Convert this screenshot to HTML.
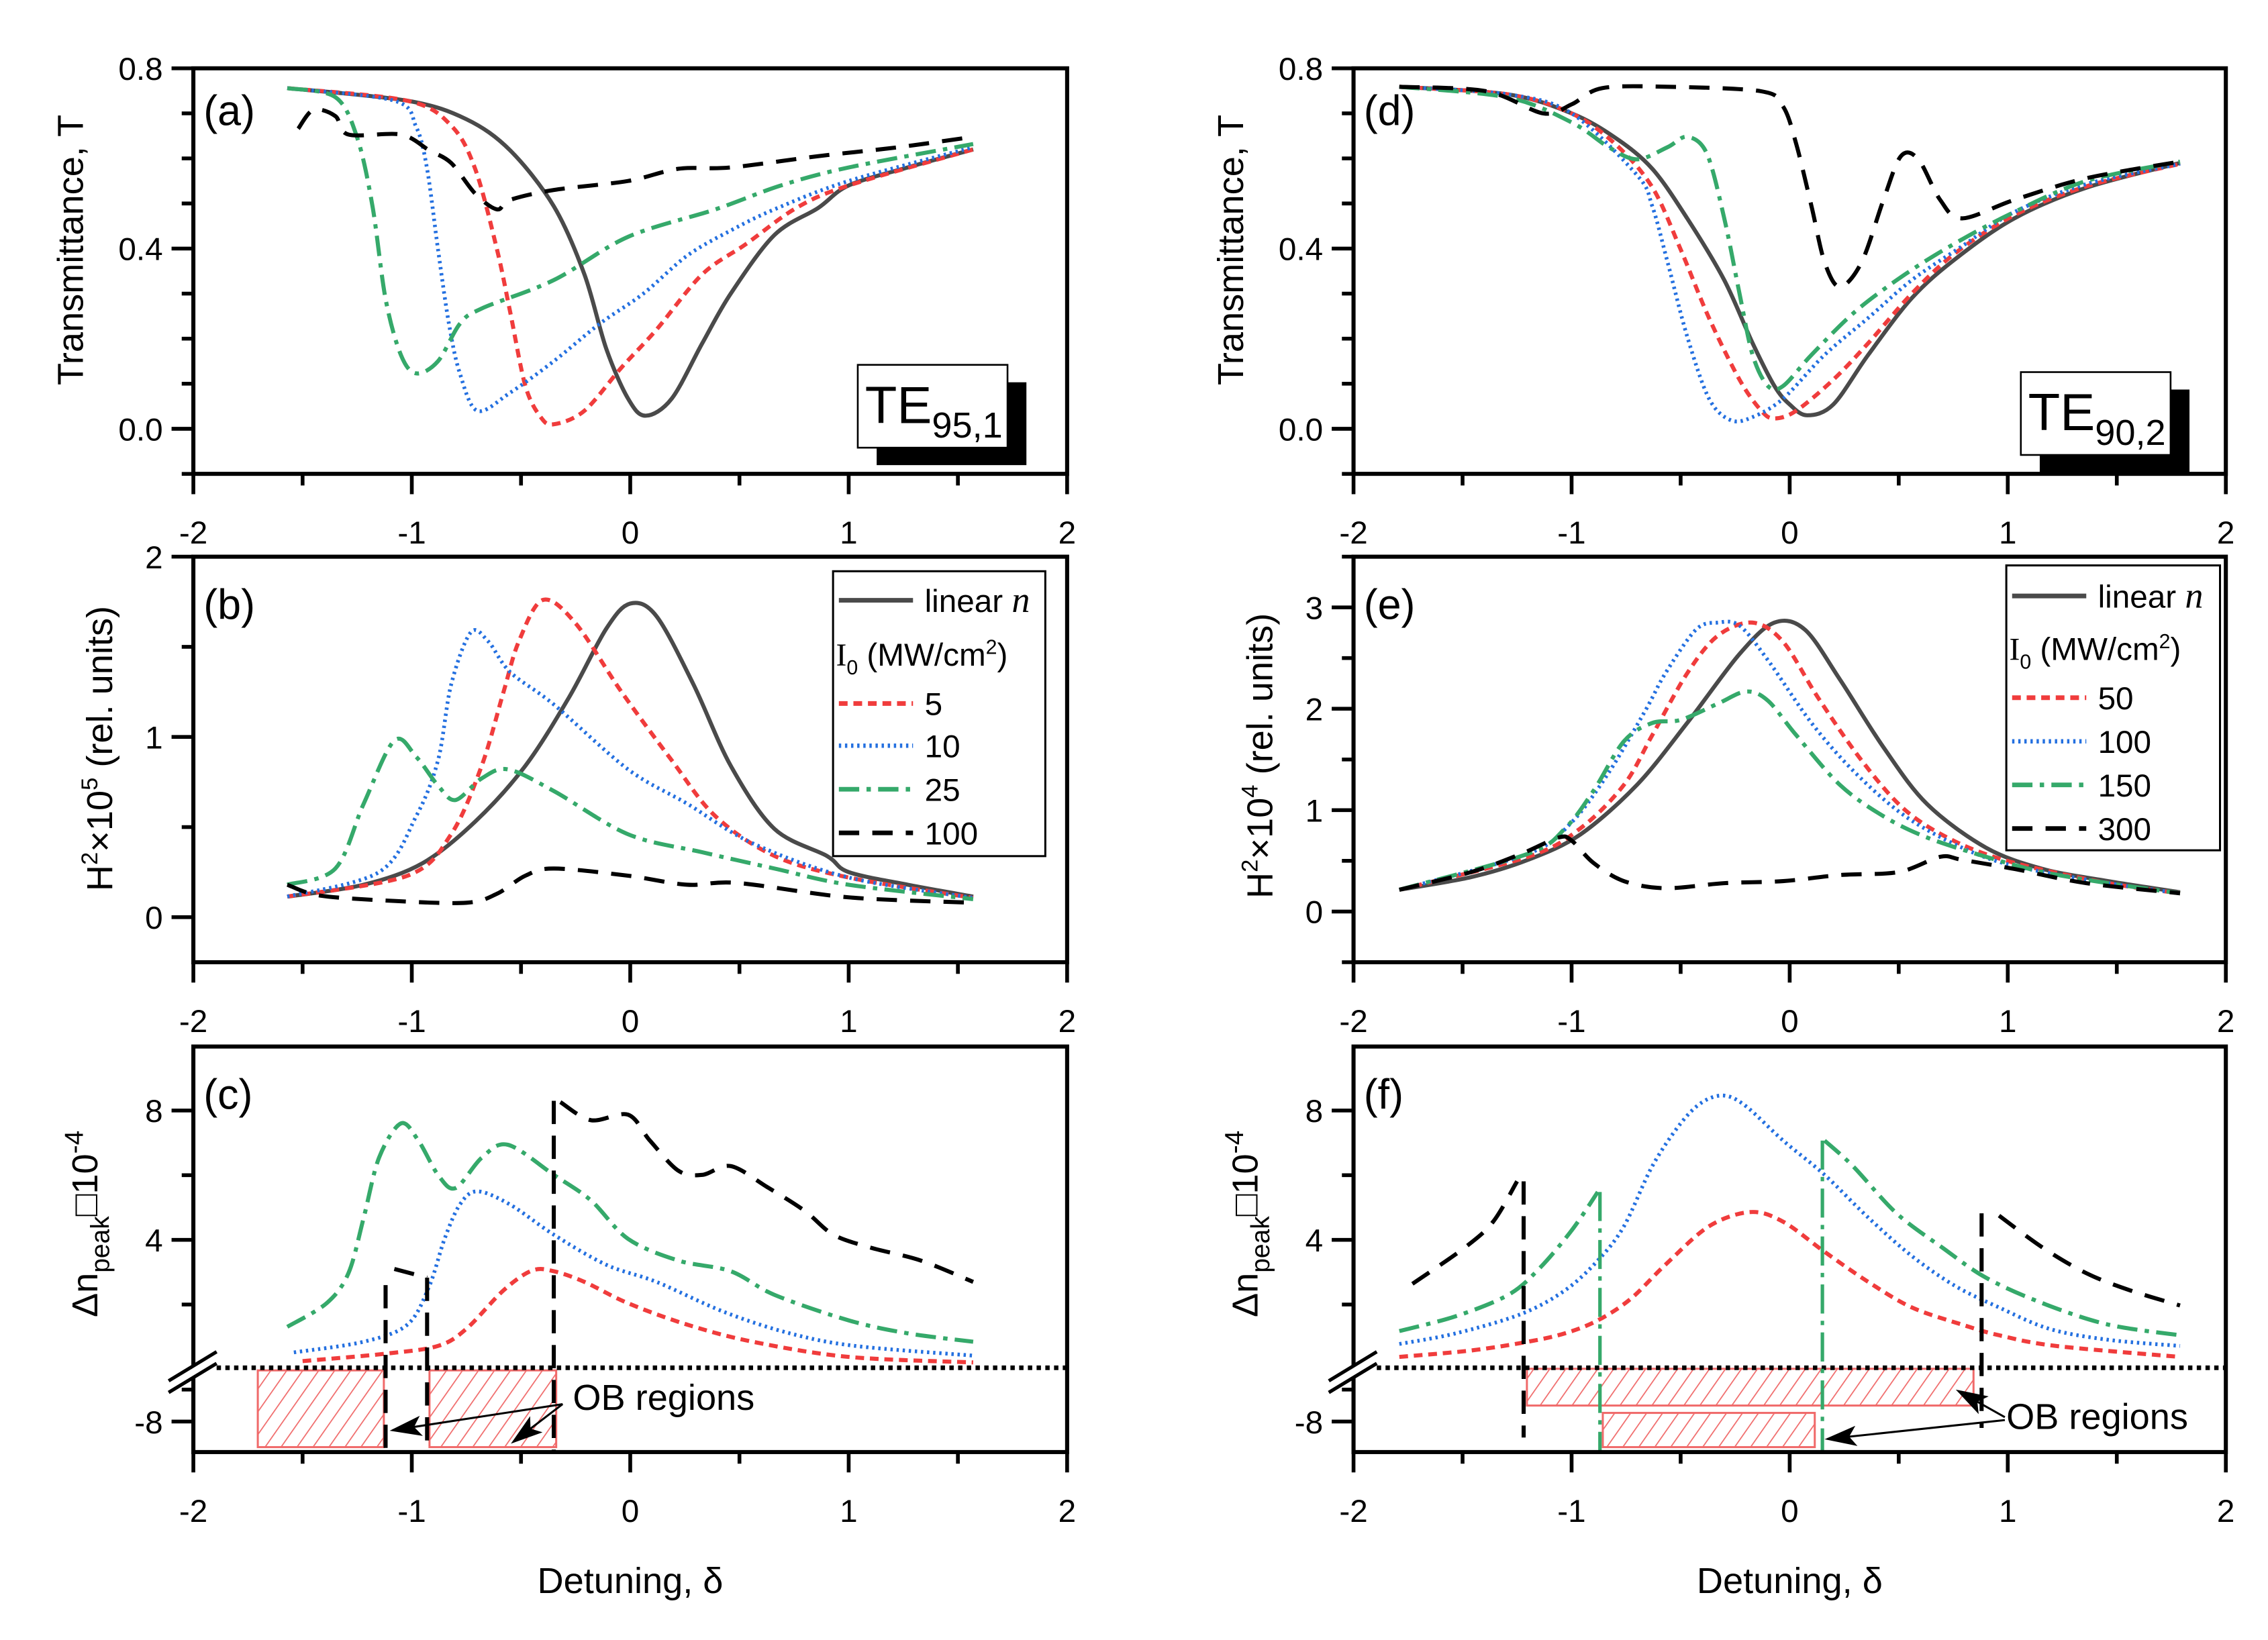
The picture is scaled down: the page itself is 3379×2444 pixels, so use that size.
<!DOCTYPE html>
<html><head><meta charset="utf-8">
<style>
html,body{margin:0;padding:0;background:#fff;}
svg{display:block;}
text{font-family:"Liberation Sans",sans-serif;fill:#000;}
.tick{font-size:22px;}
.ttl{font-size:25px;}
.plab{font-size:29px;}
</style></head>
<body>
<svg id="fig" width="3379" height="2444" viewBox="0 0 1560 1128.3" preserveAspectRatio="none" xmlns="http://www.w3.org/2000/svg">
<defs>
<pattern id="hatch" patternUnits="userSpaceOnUse" width="9" height="9" patternTransform="rotate(35)">
<line x1="0" y1="0" x2="0" y2="9" stroke="#f06a6a" stroke-width="1.6"/>
</pattern>
<marker id="arrB" markerWidth="22" markerHeight="14" refX="20" refY="7" orient="auto" markerUnits="userSpaceOnUse">
<path d="M0,0 L22,7 L0,14 L5,7 Z" fill="#000"/>
</marker>
</defs>
<g id="root"></g>
</svg>
<script>
// ---------- DATA ----------
const aLinX=[-1.57,-1.02,-0.75,-0.55,-0.35,-0.21,-0.11,-0.01,0.07,0.19,0.33,0.46,0.66,0.86,1.0,1.27,1.57];
const aLinY=[0.756,0.728,0.687,0.618,0.494,0.343,0.178,0.067,0.029,0.067,0.19,0.30,0.43,0.49,0.54,0.58,0.62];
const a5X=[-1.57,-1.02,-0.82,-0.71,-0.61,-0.55,-0.48,-0.41,-0.35,-0.21,-0.04,0.12,0.33,0.53,0.76,1.0,1.57];
const a5Y=[0.756,0.728,0.673,0.577,0.398,0.26,0.095,0.026,0.01,0.04,0.136,0.22,0.343,0.41,0.49,0.54,0.62];
const a10X=[-1.57,-1.08,-0.98,-0.93,-0.88,-0.83,-0.78,-0.70,-0.55,-0.35,-0.14,0.06,0.26,0.46,0.66,1.0,1.57];
const a10Y=[0.756,0.728,0.67,0.577,0.398,0.233,0.123,0.04,0.08,0.15,0.233,0.30,0.384,0.44,0.487,0.55,0.625];
const a25X=[-1.57,-1.35,-1.25,-1.18,-1.12,-1.05,-0.98,-0.88,-0.78,-0.68,-0.35,-0.01,0.39,0.69,1.0,1.57];
const a25Y=[0.756,0.736,0.646,0.494,0.288,0.164,0.123,0.15,0.233,0.267,0.33,0.426,0.487,0.54,0.58,0.632];
const a100X=[-1.52,-1.45,-1.35,-1.29,-1.05,-0.92,-0.82,-0.71,-0.61,-0.55,-0.35,-0.01,0.22,0.46,0.86,1.23,1.57];
const a100Y=[0.666,0.708,0.694,0.653,0.653,0.618,0.59,0.522,0.487,0.508,0.53,0.55,0.577,0.58,0.605,0.625,0.648];
const bLinX=[-1.57,-1.22,-0.95,-0.71,-0.48,-0.28,-0.11,0,0.12,0.29,0.46,0.66,0.9,1.0,1.27,1.57];
const bLinY=[0.114,0.18,0.30,0.53,0.84,1.22,1.6,1.74,1.67,1.29,0.84,0.49,0.34,0.25,0.18,0.114];
const b5X=[-1.57,-1.02,-0.82,-0.68,-0.58,-0.51,-0.40,-0.25,-0.04,0.19,0.39,0.66,1.0,1.57];
const b5Y=[0.114,0.23,0.46,0.84,1.25,1.53,1.76,1.63,1.25,0.87,0.56,0.34,0.22,0.107];
const b10X=[-1.57,-1.15,-0.98,-0.88,-0.82,-0.73,-0.65,-0.55,-0.35,-0.01,0.26,0.56,1.0,1.57];
const b10Y=[0.114,0.25,0.56,0.87,1.29,1.58,1.53,1.36,1.18,0.82,0.63,0.41,0.22,0.107];
const b25X=[-1.57,-1.35,-1.22,-1.08,-0.98,-0.88,-0.80,-0.68,-0.56,-0.35,-0.01,0.33,0.66,1.0,1.57];
const b25Y=[0.18,0.27,0.63,0.98,0.89,0.73,0.65,0.77,0.82,0.70,0.46,0.36,0.27,0.18,0.10];
const b100X=[-1.57,-1.42,-1.08,-0.75,-0.61,-0.48,-0.35,-0.01,0.26,0.49,1.0,1.57];
const b100Y=[0.18,0.12,0.09,0.08,0.13,0.23,0.27,0.23,0.18,0.19,0.11,0.08];
const c5X=[-1.5,-1.12,-0.88,-0.75,-0.58,-0.45,-0.35,-0.21,-0.01,0.26,0.56,1.0,1.57];
const c5Y=[0.25,0.48,0.72,1.25,2.44,3.05,3.03,2.7,2.04,1.38,0.85,0.38,0.21];
const c10X=[-1.54,-1.22,-1.02,-0.92,-0.85,-0.78,-0.70,-0.55,-0.35,-0.11,0.12,0.43,0.73,1.03,1.57];
const c10Y=[0.52,0.85,1.38,2.57,4.03,5.09,5.5,5.09,4.16,3.23,2.7,1.77,1.11,0.72,0.42];
const c25X=[-1.57,-1.39,-1.29,-1.22,-1.15,-1.05,-0.97,-0.88,-0.80,-0.68,-0.56,-0.35,-0.18,-0.01,0.22,0.46,0.66,1.0,1.27,1.57];
const c25Y=[1.31,2.04,2.97,4.69,6.54,7.6,7.07,6.01,5.6,6.54,6.94,6.01,5.22,4.03,3.36,3.03,2.3,1.51,1.11,0.85];
const c100aX=[-1.08,-0.93];
const c100aY=[3.1,2.83];
const c100bX=[-0.32,-0.18,-0.01,0.09,0.22,0.33,0.46,0.63,0.8,0.93,1.1,1.33,1.57];
const c100bY=[8.26,7.7,7.87,7.07,6.14,6.01,6.28,5.62,4.89,4.16,3.76,3.36,2.7];
const cDropX=[-1.12,-0.93,-0.35];
const cDropTop=[2.6,2.83,8.3];
const cDropBot=[-8.95,-8.95,-8.95];
const cBoxX0=[-1.705,-0.919];
const cBoxX1=[-1.128,-0.339];
const cBoxTop=[-6.4,-6.4];
const cBoxBot=[-8.8,-8.8];
const dLinX=[-1.79,-1.29,-1.0,-0.8,-0.63,-0.47,-0.3,-0.17,-0.07,0,0.08,0.2,0.36,0.56,0.76,1.03,1.36,1.79];
const dLinY=[0.759,0.742,0.70,0.646,0.577,0.467,0.33,0.19,0.095,0.054,0.03,0.054,0.164,0.29,0.377,0.467,0.535,0.59];
const d50X=[-1.79,-1.29,-1.0,-0.8,-0.63,-0.5,-0.37,-0.23,-0.13,-0.07,0.03,0.2,0.36,0.56,0.76,1.03,1.36,1.79];
const d50Y=[0.759,0.742,0.70,0.632,0.536,0.398,0.246,0.109,0.04,0.023,0.04,0.109,0.19,0.30,0.39,0.474,0.538,0.588];
const d100X=[-1.79,-1.29,-1.0,-0.7,-0.63,-0.56,-0.47,-0.37,-0.27,-0.17,-0.03,0.16,0.36,0.56,0.79,1.03,1.36,1.79];
const d100Y=[0.759,0.742,0.70,0.563,0.494,0.37,0.205,0.067,0.019,0.026,0.067,0.164,0.246,0.33,0.405,0.481,0.543,0.588];
const d150X=[-1.79,-1.29,-1.0,-0.83,-0.7,-0.56,-0.47,-0.38,-0.3,-0.23,-0.17,-0.1,-0.03,0.1,0.3,0.53,0.76,1.03,1.36,1.79];
const d150Y=[0.759,0.735,0.68,0.625,0.598,0.625,0.648,0.611,0.467,0.30,0.164,0.095,0.095,0.164,0.26,0.343,0.412,0.481,0.55,0.593];
const d300X=[-1.79,-1.39,-1.13,-1.0,-0.86,-0.56,-0.13,-0.03,0.03,0.1,0.16,0.23,0.33,0.43,0.51,0.59,0.69,0.79,1.03,1.36,1.79];
const d300Y=[0.759,0.749,0.70,0.72,0.756,0.759,0.749,0.715,0.632,0.494,0.37,0.315,0.37,0.508,0.605,0.598,0.508,0.467,0.508,0.556,0.593];
const eLinX=[-1.79,-1.46,-1.2,-0.96,-0.7,-0.47,-0.23,-0.07,0.07,0.23,0.43,0.63,0.9,1.16,1.46,1.79];
const eLinY=[0.215,0.34,0.51,0.76,1.25,1.86,2.54,2.85,2.78,2.29,1.62,1.06,0.63,0.42,0.30,0.19];
const e50X=[-1.79,-1.2,-0.96,-0.76,-0.63,-0.47,-0.33,-0.17,-0.03,0.13,0.33,0.53,0.76,1.03,1.46,1.79];
const e50Y=[0.215,0.54,0.82,1.25,1.74,2.35,2.72,2.85,2.66,2.11,1.49,1.0,0.69,0.48,0.28,0.18];
const e100X=[-1.79,-1.2,-1.0,-0.83,-0.66,-0.57,-0.43,-0.33,-0.23,-0.1,0.1,0.3,0.53,0.79,1.03,1.46,1.79];
const e100Y=[0.215,0.57,0.88,1.37,1.99,2.35,2.78,2.85,2.82,2.48,1.86,1.37,0.94,0.63,0.45,0.28,0.18];
const e150X=[-1.79,-1.2,-1.03,-0.9,-0.76,-0.63,-0.5,-0.33,-0.2,-0.1,0.03,0.23,0.43,0.63,0.9,1.16,1.46,1.79];
const e150Y=[0.215,0.57,0.82,1.19,1.68,1.86,1.89,2.05,2.17,2.08,1.74,1.25,0.94,0.73,0.54,0.39,0.28,0.18];
const e300X=[-1.79,-1.46,-1.23,-1.06,-1.0,-0.9,-0.76,-0.57,-0.3,-0.03,0.23,0.5,0.69,0.79,1.03,1.36,1.79];
const e300Y=[0.215,0.39,0.57,0.73,0.70,0.48,0.30,0.23,0.28,0.30,0.36,0.39,0.54,0.51,0.42,0.28,0.18];
const f50X=[-1.79,-1.46,-1.2,-1.03,-0.88,-0.73,-0.57,-0.37,-0.18,-0.03,0.16,0.36,0.56,0.79,0.96,1.22,1.79];
const f50Y=[0.38,0.58,0.85,1.11,1.51,2.17,3.23,4.42,4.86,4.56,3.63,2.70,1.91,1.38,1.05,0.72,0.38];
const f100X=[-1.79,-1.53,-1.23,-1.03,-0.88,-0.76,-0.63,-0.50,-0.40,-0.3,-0.2,-0.03,0.16,0.36,0.56,0.76,0.96,1.19,1.46,1.79];
const f100Y=[0.78,1.11,1.71,2.44,3.36,4.42,6.28,7.6,8.26,8.46,8.13,7.07,6.01,4.69,3.5,2.57,1.91,1.25,0.91,0.72];
const f150aX=[-1.79,-1.53,-1.29,-1.15,-1.0,-0.88];
const f150aY=[1.18,1.64,2.3,3.1,4.29,5.48];
const f150bX=[0.16,0.29,0.49,0.7,0.9,1.16,1.46,1.79];
const f150bY=[7.07,6.28,4.82,3.76,2.83,2.04,1.38,1.05];
const f300aX=[-1.73,-1.49,-1.36,-1.25];
const f300aY=[2.64,3.76,4.56,5.81];
const f300bX=[0.96,1.16,1.36,1.56,1.79];
const f300bY=[4.75,3.76,2.97,2.44,1.97];
const fGreenDropX=[-0.87,0.15];
const fGreenDropTop=[5.48,7.07];
const fGreenDropBot=[-8.95,-8.95];
const fBlackDropX=[-1.22,0.88];
const fBlackDropTop=[5.81,4.82];
const fBlackDropBot=[-8.5,-8.2];
const fBoxX0=[-1.205,-0.857];
const fBoxX1=[0.843,0.115];
const fBoxTop=[-6.35,-7.73];
const fBoxBot=[-7.5,-8.8];

// ---------- DRAWING ----------
const NS="http://www.w3.org/2000/svg";
const root=document.getElementById('root');
function el(tag,attrs,parent){const e=document.createElementNS(NS,tag);for(const k in attrs)e.setAttribute(k,attrs[k]);(parent||root).appendChild(e);return e;}
const STY={
 lin:{stroke:'#4a4a4a','stroke-width':2.8,'stroke-dasharray':'none'},
 red:{stroke:'#f03c3c','stroke-width':2.8,'stroke-dasharray':'6 4'},
 blue:{stroke:'#2470e0','stroke-width':2.6,'stroke-dasharray':'1.6 2.6'},
 green:{stroke:'#35a96a','stroke-width':2.8,'stroke-dasharray':'14 5 3 5'},
 black:{stroke:'#000','stroke-width':2.8,'stroke-dasharray':'14 9'}
};
function series(g,X,Y,xs,ys,sty,name){
  const pts=xs.map((x,i)=>[X(x),Y(ys[i])]);
  let d='M'+pts[0][0].toFixed(2)+','+pts[0][1].toFixed(2);
  if(pts.length<3){for(let i=1;i<pts.length;i++)d+='L'+pts[i][0].toFixed(2)+','+pts[i][1].toFixed(2);}
  else{
    const t=0.16;
    for(let i=0;i<pts.length-1;i++){
      const p0=pts[Math.max(0,i-1)],p1=pts[i],p2=pts[i+1],p3=pts[Math.min(pts.length-1,i+2)];
      const c1=[p1[0]+(p2[0]-p0[0])*t,p1[1]+(p2[1]-p0[1])*t];
      const c2=[p2[0]-(p3[0]-p1[0])*t,p2[1]-(p3[1]-p1[1])*t];
      d+='C'+c1[0].toFixed(2)+','+c1[1].toFixed(2)+' '+c2[0].toFixed(2)+','+c2[1].toFixed(2)+' '+p2[0].toFixed(2)+','+p2[1].toFixed(2);
    }
  }
  const p=el('path',{d:d,fill:'none','stroke-linejoin':'round',stroke:sty.stroke,'stroke-width':sty['stroke-width'],'stroke-dasharray':sty['stroke-dasharray']},g);
  
  
  return p;
}
function txt(g,x,y,s,cls,anchor,name){const t=el('text',{x:x,y:y,'class':cls,'text-anchor':anchor||'middle'},g);t.textContent=s;
  
  
  return t;}

function panel(opt){
  const g=el('g',{});
  
  
  const X=d=>opt.x0+(d+2)/4*(opt.x1-opt.x0);
  const Y=opt.Y;
  for(let v=-2;v<=2.001;v+=0.5){
    const maj=Math.abs(v-Math.round(v))<1e-6;
    const xx=X(v);
    el('line',{x1:xx,x2:xx,y1:opt.bot,y2:opt.bot+(maj?14:8),stroke:'#000','stroke-width':2.6},g);
    if(maj) txt(g,xx,opt.bot+48,String(Math.round(v)),'tick','middle','x-tick-label');
  }
  opt.yticks.forEach(t=>{
    const yy=Y(t.v);
    el('line',{x1:opt.x0-(t.l?15:8),x2:opt.x0,y1:yy,y2:yy,stroke:'#000','stroke-width':2.6},g);
    if(t.l!==undefined && t.l!==null) txt(g,opt.x0-21,yy+8,t.l,'tick','end','y-tick-label');
  });
  return {g,X,Y};
}
function frame(g,opt){
  const r=el('rect',{x:opt.x0,y:opt.top,width:opt.x1-opt.x0,height:opt.bot-opt.top,fill:'none',stroke:'#000','stroke-width':2.8},g);
  
  
}
function linY(top,bot,mn,mx){return v=>bot-(v-mn)/(mx-mn)*(bot-top);}
function brokenY(v){return v>=-1?942-v*22.25:978-(v+8)*22;}
function ticksRange(a,b,st,labels){const r=[];for(let v=a;v<=b+1e-6;v+=st){const k=Math.round(v*100)/100;r.push({v:k,l:labels[k.toFixed(2)]});}return r;}

const cols=[{x0:133,x1:734,side:'left'},{x0:931,x1:1531,side:'right'}];

[['a',0],['d',1]].forEach(([lab,ci])=>{
  const c=cols[ci];
  const opt={name:'panel-'+lab,x0:c.x0,x1:c.x1,top:47,bot:326,Y:linY(47,326,-0.1,0.8),
    yticks:ticksRange(-0.1,0.8,0.1,{'0.80':'0.8','0.40':'0.4','0.00':'0.0'})};
  const P=panel(opt);
  if(lab==='a'){
    series(P.g,P.X,P.Y,aLinX,aLinY,STY.lin,'series-linear');
    series(P.g,P.X,P.Y,a5X,a5Y,STY.red,'series-5');
    series(P.g,P.X,P.Y,a10X,a10Y,STY.blue,'series-10');
    series(P.g,P.X,P.Y,a25X,a25Y,STY.green,'series-25');
    series(P.g,P.X,P.Y,a100X,a100Y,STY.black,'series-100');
  } else {
    series(P.g,P.X,P.Y,dLinX,dLinY,STY.lin,'series-linear');
    series(P.g,P.X,P.Y,d50X,d50Y,STY.red,'series-50');
    series(P.g,P.X,P.Y,d100X,d100Y,STY.blue,'series-100');
    series(P.g,P.X,P.Y,d150X,d150Y,STY.green,'series-150');
    series(P.g,P.X,P.Y,d300X,d300Y,STY.black,'series-300');
  }
  frame(P.g,opt);
  txt(P.g,c.x0+7,opt.top+39,'('+lab+')','plab','start','panel-label');
  const t=txt(P.g,0,0,'Transmittance, T','ttl','middle','y-axis-title');
  t.setAttribute('transform','translate('+(c.x0-76)+',172) rotate(-90)');
  const bx=ci?1390:590, by=ci?256:251;
  el('rect',{x:bx+13,y:by+12,width:103,height:57,fill:'#000'},P.g);
  const bb=el('rect',{x:bx,y:by,width:103,height:57,fill:'#fff',stroke:'#000','stroke-width':1.2},P.g);
  
  
  const tt=el('text',{x:bx+5,y:by+40,'font-size':'36px'},P.g);
  
  
  tt.innerHTML='TE<tspan font-size="25px" dy="10">'+(ci?'90,2':'95,1')+'</tspan>';
});

function legend(g,x,y,w,h,rows,lineX,textX){
  const lg=el('g',{},g);
  
  
  el('rect',{x:x,y:y,width:w,height:h,fill:'#fff',stroke:'#000','stroke-width':1.4},lg);
  rows.forEach(r=>{
    if(r.sty){
      const ln=el('line',{x1:lineX,x2:lineX+51,y1:r.y,y2:r.y,stroke:r.sty.stroke,'stroke-width':r.sty['stroke-width']+0.4,'stroke-dasharray':r.sty['stroke-dasharray']},lg);
      
      
    }
    const t=el('text',{x:r.tx||textX,y:r.y+8,'font-size':'22px'},lg);
    
    
    t.innerHTML=r.html;
  });
}
[['b',0],['e',1]].forEach(([lab,ci])=>{
  const c=cols[ci];
  const opt= ci===0 ? {name:'panel-b',x0:c.x0,x1:c.x1,top:383,bot:662,Y:linY(383,662,-0.25,2),
      yticks:ticksRange(0,2,0.5,{'0.00':'0','1.00':'1','2.00':'2'})}
    : {name:'panel-e',x0:c.x0,x1:c.x1,top:383,bot:662,Y:linY(383,662,-0.5,3.5),
      yticks:ticksRange(-0.5,3.5,0.5,{'0.00':'0','1.00':'1','2.00':'2','3.00':'3'})};
  const P=panel(opt);
  if(ci===0){
    series(P.g,P.X,P.Y,bLinX,bLinY,STY.lin,'series-linear');
    series(P.g,P.X,P.Y,b5X,b5Y,STY.red,'series-5');
    series(P.g,P.X,P.Y,b10X,b10Y,STY.blue,'series-10');
    series(P.g,P.X,P.Y,b25X,b25Y,STY.green,'series-25');
    series(P.g,P.X,P.Y,b100X,b100Y,STY.black,'series-100');
    legend(P.g,573,393,146,196,[
      {y:413,sty:STY.lin,html:'linear <tspan font-family="Liberation Serif" font-style="italic" font-size="25px">n</tspan>'},
      {y:450,tx:575,html:'<tspan font-family="Liberation Serif">I</tspan><tspan font-size="14px" dy="6">0</tspan><tspan dy="-6"> (MW/cm</tspan><tspan font-size="14px" dy="-8">2</tspan><tspan dy="8">)</tspan>'},
      {y:484,sty:STY.red,html:'5'},{y:513,sty:STY.blue,html:'10'},{y:543,sty:STY.green,html:'25'},{y:573,sty:STY.black,html:'100'}],577,636);
  } else {
    series(P.g,P.X,P.Y,eLinX,eLinY,STY.lin,'series-linear');
    series(P.g,P.X,P.Y,e50X,e50Y,STY.red,'series-50');
    series(P.g,P.X,P.Y,e100X,e100Y,STY.blue,'series-100');
    series(P.g,P.X,P.Y,e150X,e150Y,STY.green,'series-150');
    series(P.g,P.X,P.Y,e300X,e300Y,STY.black,'series-300');
    legend(P.g,1380,389,147,196,[
      {y:410,sty:STY.lin,html:'linear <tspan font-family="Liberation Serif" font-style="italic" font-size="25px">n</tspan>'},
      {y:446,tx:1382,html:'<tspan font-family="Liberation Serif">I</tspan><tspan font-size="14px" dy="6">0</tspan><tspan dy="-6"> (MW/cm</tspan><tspan font-size="14px" dy="-8">2</tspan><tspan dy="8">)</tspan>'},
      {y:480,sty:STY.red,html:'50'},{y:510,sty:STY.blue,html:'100'},{y:540,sty:STY.green,html:'150'},{y:570,sty:STY.black,html:'300'}],1384,1443);
  }
  frame(P.g,opt);
  txt(P.g,c.x0+7,opt.top+43,'('+lab+')','plab','start','panel-label');
  const t=el('text',{'class':'ttl','text-anchor':'middle',transform:'translate('+(c.x0-56)+','+(ci?520:515)+') rotate(-90)'},P.g);
  
  
  t.innerHTML='H<tspan font-size="16px" dy="-10">2</tspan><tspan dy="10">×10</tspan><tspan font-size="16px" dy="-10">'+(ci?'4':'5')+'</tspan><tspan dy="10"> (rel. units)</tspan>';
});

[['c',0],['f',1]].forEach(([lab,ci])=>{
  const c=cols[ci];
  const opt={name:'panel-'+lab,x0:c.x0,x1:c.x1,top:720,bot:999,Y:brokenY,
    yticks:[{v:8,l:'8'},{v:6},{v:4,l:'4'},{v:2},{v:-7},{v:-8,l:'-8'}]};
  const P=panel(opt);
  const X=P.X,Y=P.Y;
  const bx0=ci?fBoxX0:cBoxX0, bx1=ci?fBoxX1:cBoxX1, bt=ci?fBoxTop:cBoxTop, bbt=ci?fBoxBot:cBoxBot;
  for(let i=0;i<bx0.length;i++){
    const r=el('rect',{x:X(bx0[i]),y:Y(bt[i]),width:X(bx1[i])-X(bx0[i]),height:Y(bbt[i])-Y(bt[i]),fill:'url(#hatch)',stroke:'#f06a6a','stroke-width':1.4},P.g);
    
    
  }
  const bl=el('line',{x1:c.x0+16,x2:c.x1,y1:941,y2:941,stroke:'#000','stroke-width':3.2,'stroke-dasharray':'3 3'},P.g);
  
  
  if(ci===0){
    series(P.g,X,Y,c5X,c5Y,STY.red,'series-5');
    series(P.g,X,Y,c10X,c10Y,STY.blue,'series-10');
    series(P.g,X,Y,c25X,c25Y,STY.green,'series-25');
    series(P.g,X,Y,c100aX,c100aY,STY.black,'series-100-low');
    series(P.g,X,Y,c100bX,c100bY,STY.black,'series-100-high');
    for(let i=0;i<cDropX.length;i++) series(P.g,X,Y,[cDropX[i],cDropX[i]],[cDropTop[i],cDropBot[i]],{stroke:'#000','stroke-width':2.8,'stroke-dasharray':'16 8'},'ob-boundary');
  } else {
    series(P.g,X,Y,f50X,f50Y,STY.red,'series-50');
    series(P.g,X,Y,f100X,f100Y,STY.blue,'series-100');
    series(P.g,X,Y,f150aX,f150aY,STY.green,'series-150-low');
    series(P.g,X,Y,f150bX,f150bY,STY.green,'series-150-high');
    series(P.g,X,Y,f300aX,f300aY,STY.black,'series-300-low');
    series(P.g,X,Y,f300bX,f300bY,STY.black,'series-300-high');
    for(let i=0;i<fGreenDropX.length;i++) series(P.g,X,Y,[fGreenDropX[i],fGreenDropX[i]],[fGreenDropTop[i],fGreenDropBot[i]],{stroke:'#35a96a','stroke-width':2.4,'stroke-dasharray':'20 5 3 5'},'ob-boundary');
    for(let i=0;i<fBlackDropX.length;i++) series(P.g,X,Y,[fBlackDropX[i],fBlackDropX[i]],[fBlackDropTop[i],fBlackDropBot[i]],{stroke:'#000','stroke-width':2.8,'stroke-dasharray':'16 8'},'ob-boundary');
  }
  frame(P.g,opt);
  el('polygon',{points:(c.x0-16)+',951 '+(c.x0+16)+',931 '+(c.x0+16)+',938 '+(c.x0-16)+',958',fill:'#fff'},P.g);
  el('line',{x1:c.x0-17,y1:950,x2:c.x0+16,y2:930,stroke:'#000','stroke-width':2.4},P.g);
  el('line',{x1:c.x0-17,y1:958,x2:c.x0+16,y2:938,stroke:'#000','stroke-width':2.4},P.g);
  txt(P.g,c.x0+7,opt.top+43,'('+lab+')','plab','start','panel-label');
  const t=el('text',{'class':'ttl','text-anchor':'middle',transform:'translate('+(c.x0-66)+',842) rotate(-90)'},P.g);
  
  
  t.innerHTML='Δn<tspan font-size="18px" dy="8">peak</tspan><tspan dy="-8">□10</tspan><tspan font-size="18px" dy="-10">-4</tspan>';
  txt(P.g,(c.x0+c.x1)/2,1096,'Detuning, δ','ttl','middle','x-axis-title');
  if(ci===0){
    txt(P.g,394,970,'OB regions','ttl','start','ob-annotation');
    el('line',{x1:387,y1:966,x2:270,y2:984,stroke:'#000','stroke-width':1.4,'marker-end':'url(#arrB)'},P.g);
    el('line',{x1:387,y1:966,x2:353,y2:992,stroke:'#000','stroke-width':1.4,'marker-end':'url(#arrB)'},P.g);
  } else {
    txt(P.g,1380,983,'OB regions','ttl','start','ob-annotation');
    el('line',{x1:1379,y1:975,x2:1347,y2:957,stroke:'#000','stroke-width':1.4,'marker-end':'url(#arrB)'},P.g);
    el('line',{x1:1379,y1:977,x2:1257,y2:990,stroke:'#000','stroke-width':1.4,'marker-end':'url(#arrB)'},P.g);
  }
});
</script>
</body></html>
